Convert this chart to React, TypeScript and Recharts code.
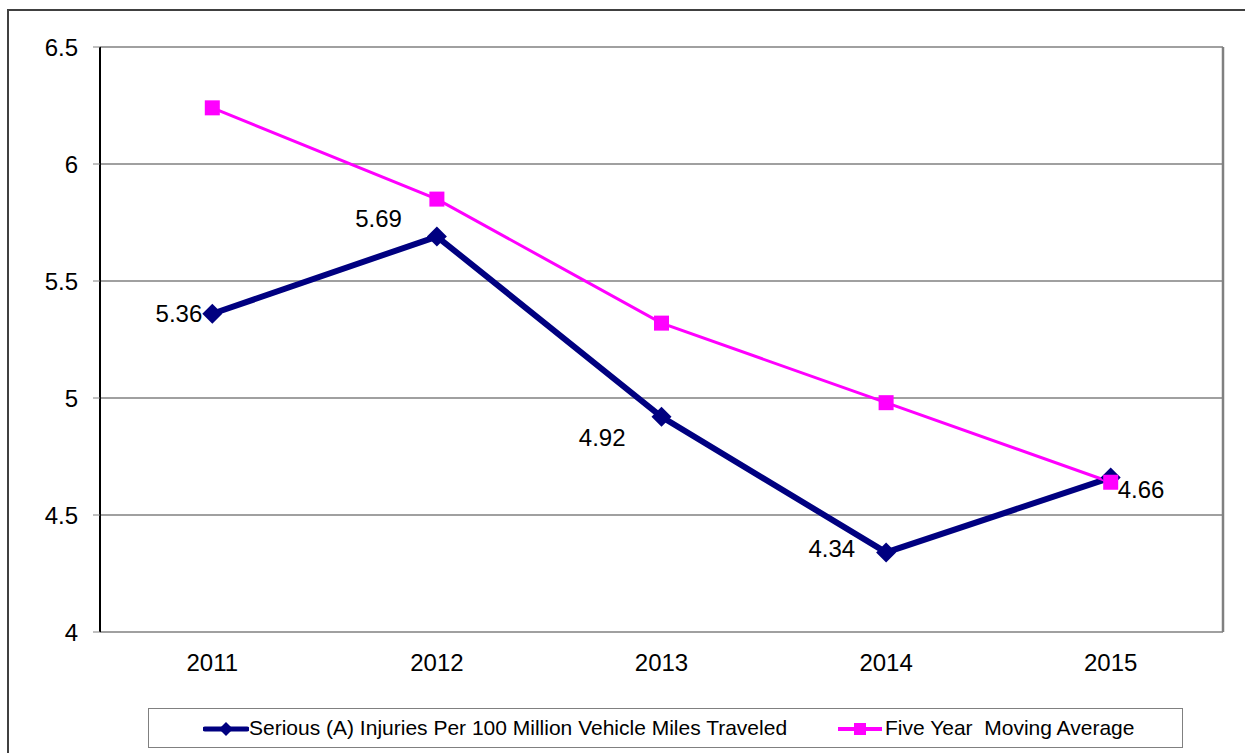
import { LineChart, Line, XAxis, YAxis, CartesianGrid, LabelList, ReferenceLine } from 'recharts'

const years = ['2011', '2012', '2013', '2014', '2015']
const injuryRate = [5.36, 5.69, 4.92, 4.34, 4.66]
const movingAvg = [6.24, 5.85, 5.32, 4.98, 4.64]
const yTicks = [4, 4.5, 5, 5.5, 6, 6.5]
const yearTicks = [0, 1, 2, 3, 4]
const bandEdges = [-0.5, 0.5, 1.5, 2.5, 3.5, 4.5]
const seriesNames = [
  'Serious (A) Injuries Per 100 Million Vehicle Miles Traveled',
  'Five Year  Moving Average',
]

const data = years.map((year, i) => ({ x: i, year, rate: injuryRate[i], avg: movingAvg[i] }))

const NAVY = '#000080'
const MAGENTA = '#ff00ff'
const GRID = '#808080'
const FONT = '"Liberation Sans", Arial, sans-serif'

// where each rate label sits relative to its point
const labelPlacement: { anchor: 'start' | 'end'; dx: number; dy: number }[] = [
  { anchor: 'end', dx: -10, dy: 0 },
  { anchor: 'end', dx: -35, dy: -18 },
  { anchor: 'end', dx: -36, dy: 21 },
  { anchor: 'end', dx: -31, dy: -4 },
  { anchor: 'start', dx: 7, dy: 12 },
]

function Diamond({ cx, cy }: any) {
  if (cx == null || cy == null) return null
  const r = 10
  return (
    <polygon
      points={`${cx},${cy - r} ${cx + r},${cy} ${cx},${cy + r} ${cx - r},${cy}`}
      fill={NAVY}
    />
  )
}

function Square({ cx, cy }: any) {
  if (cx == null || cy == null) return null
  const s = 15
  return <rect x={cx - s / 2} y={cy - s / 2} width={s} height={s} fill={MAGENTA} />
}

function RateLabel({ x, y, value, index }: any) {
  const p = labelPlacement[index]
  return (
    <text
      x={x + p.dx}
      y={y + p.dy}
      dy="0.36em"
      textAnchor={p.anchor}
      fontSize={24}
      fontFamily={FONT}
      fill="#000"
    >
      {value}
    </text>
  )
}

function LegendBox() {
  return (
    <div
      style={{
        position: 'absolute',
        left: 148,
        top: 708,
        width: 1033,
        height: 38,
        border: '1px solid #808080',
        background: '#fff',
        fontFamily: FONT,
        fontSize: 21,
        whiteSpace: 'pre',
      }}
    >
      <svg width={46} height={16} style={{ position: 'absolute', left: 54, top: 12 }}>
        <line x1={2} y1={8} x2={44} y2={8} stroke={NAVY} strokeWidth={5} strokeLinecap="round" />
        <polygon points="23,1 30,8 23,15 16,8" fill={NAVY} />
      </svg>
      <span style={{ position: 'absolute', left: 100, top: 7 }}>{seriesNames[0]}</span>
      <svg width={44} height={14} style={{ position: 'absolute', left: 689, top: 13 }}>
        <line x1={0} y1={7} x2={44} y2={7} stroke={MAGENTA} strokeWidth={4} />
        <rect x={16} y={1} width={12} height={12} fill={MAGENTA} />
      </svg>
      <span style={{ position: 'absolute', left: 736, top: 7 }}>{seriesNames[1]}</span>
    </div>
  )
}

export default function App() {
  return (
    <div
      style={{
        position: 'fixed',
        left: 0,
        top: 0,
        width: 1245,
        height: 753,
        overflow: 'hidden',
        background: '#fff',
      }}
    >
      <div
        style={{
          position: 'absolute',
          left: 7,
          top: 9,
          width: 1300,
          height: 800,
          borderTop: '2px solid #404040',
          borderLeft: '2px solid #404040',
        }}
      />
      <div style={{ position: 'absolute', left: 0, top: 0 }}>
        <LineChart
          width={1245}
          height={753}
          data={data}
          margin={{ top: 47, right: 22, bottom: 81, left: 0 }}
          style={{ fontFamily: FONT }}
        >
          <CartesianGrid horizontal vertical={false} stroke={GRID} strokeWidth={1.5} />
          <XAxis
            xAxisId="edges"
            type="number"
            dataKey="x"
            domain={[-0.5, 4.5]}
            ticks={bandEdges}
            tick={false}
            tickSize={6}
            tickLine={{ stroke: GRID }}
            axisLine={{ stroke: '#000', strokeWidth: 2 }}
            height={0}
          />
          <XAxis
            xAxisId="labels"
            type="number"
            dataKey="x"
            domain={[-0.5, 4.5]}
            ticks={yearTicks}
            tickFormatter={(v: number) => years[v]}
            tick={{ fill: '#000', fontSize: 24, fontFamily: FONT }}
            tickLine={false}
            tickSize={0}
            tickMargin={22}
            axisLine={false}
            height={40}
          />
          <YAxis
            type="number"
            domain={[4, 6.5]}
            ticks={yTicks}
            width={100}
            tick={{ fill: '#000', fontSize: 24, fontFamily: FONT }}
            tickLine={{ stroke: GRID }}
            tickSize={7}
            tickMargin={15}
            axisLine={{ stroke: '#000', strokeWidth: 2 }}
          />
          <ReferenceLine xAxisId="edges" x={4.5} stroke={GRID} strokeWidth={2.5} />
          <Line
            xAxisId="edges"
            type="linear"
            dataKey="rate"
            stroke={NAVY}
            strokeWidth={6}
            dot={<Diamond />}
            activeDot={false}
            isAnimationActive={false}
          >
            <LabelList dataKey="rate" content={<RateLabel />} />
          </Line>
          <Line
            xAxisId="edges"
            type="linear"
            dataKey="avg"
            stroke={MAGENTA}
            strokeWidth={3}
            dot={<Square />}
            activeDot={false}
            isAnimationActive={false}
          />
        </LineChart>
      </div>
      <LegendBox />
    </div>
  )
}
